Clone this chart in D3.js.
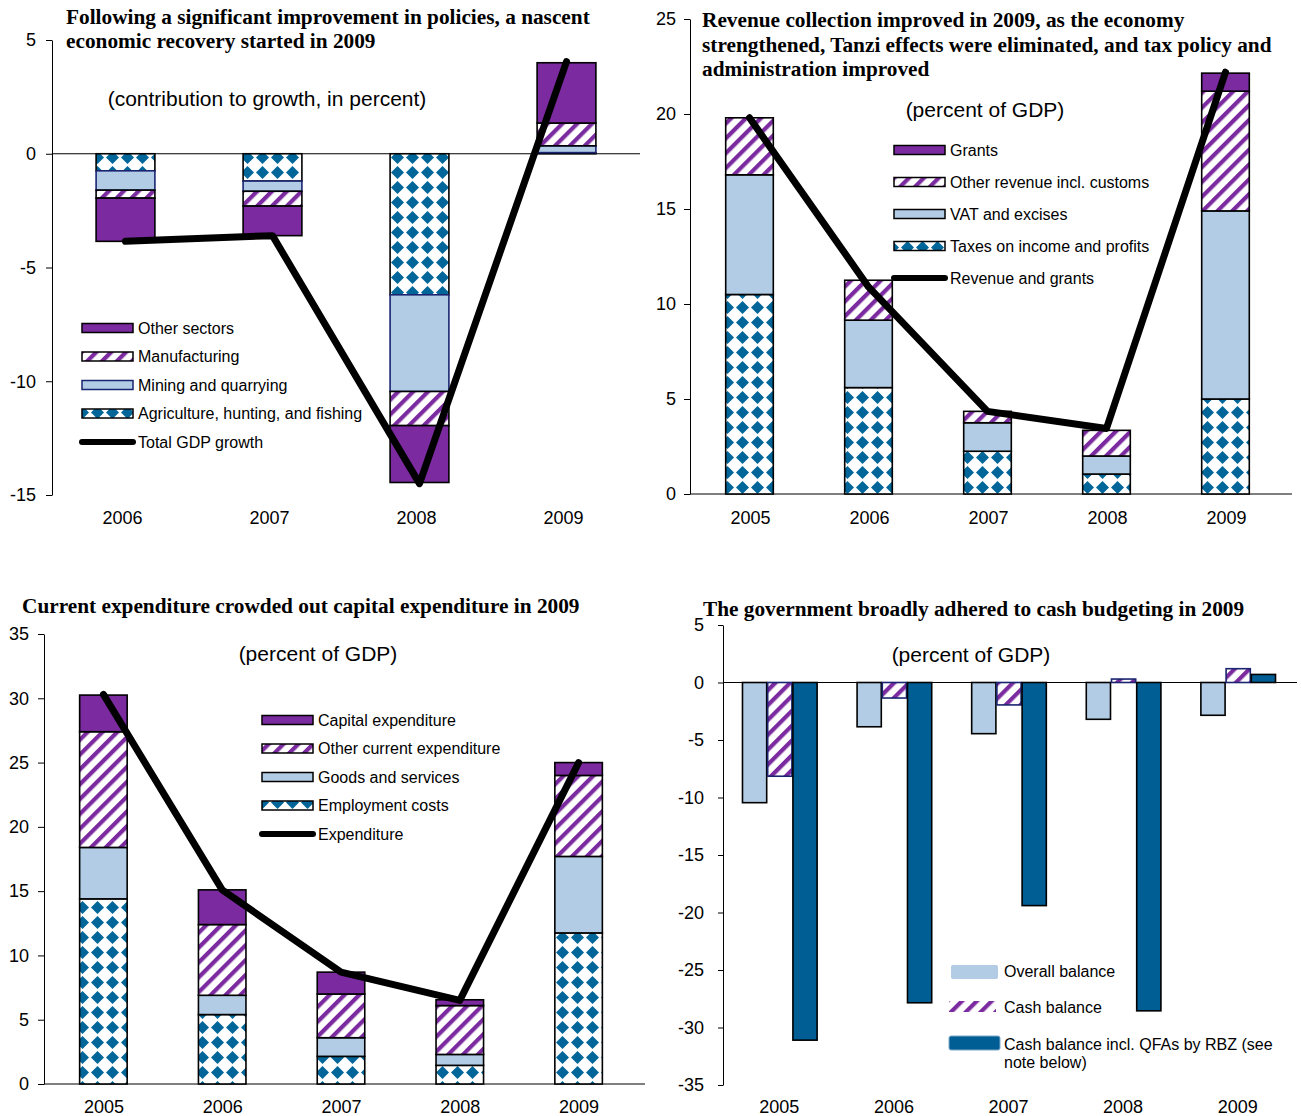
<!DOCTYPE html>
<html><head><meta charset="utf-8">
<script src="https://cdn.jsdelivr.net/npm/d3@7"></script>
<style>body{margin:0;background:#fff}svg{display:block}</style>
</head><body>
<svg id="fig" width="1301" height="1116"></svg>
<script>
// ---- Panel 1: contribution to growth (percent) ----
const years1 = ["2006", "2007", "2008", "2009"];
const agriculture = [-0.75, -1.2, -6.2, 0.05];
const mining = [-0.85, -0.45, -4.25, 0.3];
const manufacturing = [-0.35, -0.65, -1.5, 1.0];
const otherSectors = [-1.9, -1.3, -2.5, 2.65];
const totalGdpGrowth = [-3.85, -3.6, -14.5, 4.05];
const ticks1 = [5, 0, -5, -10, -15];

// ---- Panel 2: revenue (percent of GDP) ----
const years2 = ["2005", "2006", "2007", "2008", "2009"];
const taxesIncome = [10.5, 5.6, 2.25, 1.05, 5.0];
const vatExcises = [6.3, 3.55, 1.5, 0.95, 9.9];
const otherRevenue = [3.0, 2.1, 0.6, 1.35, 6.3];
const grants = [0, 0, 0, 0, 0.95];
const revenueGrants = [19.8, 10.9, 4.35, 3.45, 22.2];
const ticks2 = [0, 5, 10, 15, 20, 25];

// ---- Panel 3: expenditure (percent of GDP) ----
const years3 = ["2005", "2006", "2007", "2008", "2009"];
const employmentCosts = [14.4, 5.4, 2.15, 1.45, 11.75];
const goodsServices = [4.0, 1.5, 1.45, 0.85, 5.95];
const otherCurrent = [9.0, 5.5, 3.4, 3.8, 6.3];
const capitalExp = [2.85, 2.7, 1.7, 0.45, 1.0];
const expenditure = [30.3, 15.1, 8.7, 6.5, 25.0];
const ticks3 = [0, 5, 10, 15, 20, 25, 30, 35];

// ---- Panel 4: balances (percent of GDP) ----
const years4 = ["2005", "2006", "2007", "2008", "2009"];
const overallBalance = [-10.45, -3.85, -4.45, -3.2, -2.85];
const cashBalance = [-8.15, -1.35, -1.95, 0.3, 1.2];
const cashBalanceQfa = [-31.1, -27.85, -19.4, -28.55, 0.7];
const ticks4 = [5, 0, -5, -10, -15, -20, -25, -30, -35];

const COL = {purple: "#7B2A9F", light: "#B1CCE4", blue: "#00669A", dark: "#005E94", navy: "#1A2470"};
const SANS = "'Liberation Sans', Arial, sans-serif";
const SERIF = "'Liberation Serif', 'Times New Roman', serif";

const svg = d3.select("#fig");
svg.append("rect").attr("width", 1301).attr("height", 1116).attr("fill", "#fff");
const defs = svg.append("defs");

// blue diamonds on white
const dp = defs.append("pattern").attr("id", "diamonds")
  .attr("patternUnits", "userSpaceOnUse").attr("width", 15).attr("height", 15);
dp.append("rect").attr("width", 15).attr("height", 15).attr("fill", "#fff");
dp.append("path").attr("d", "M7.5,1L14,7.5L7.5,14L1,7.5Z").attr("fill", COL.blue);

// purple upward diagonal stripes on white
const sp = defs.append("pattern").attr("id", "stripes")
  .attr("patternUnits", "userSpaceOnUse").attr("width", 10.5).attr("height", 10)
  .attr("patternTransform", "rotate(45)");
sp.append("rect").attr("width", 10.5).attr("height", 10).attr("fill", "#fff");
sp.append("rect").attr("width", 4.2).attr("height", 10).attr("fill", COL.purple);

function drawTitle(lines, x, y, dy) {
  const t = svg.append("text").attr("x", x).attr("y", y)
    .attr("font-family", SERIF).attr("font-weight", "bold").attr("font-size", 21.3).attr("fill", "#000");
  lines.forEach((l, i) => t.append("tspan").attr("x", x).attr("y", y + i * dy).text(l));
}

function drawSubtitle(text, cx, y) {
  svg.append("text").attr("x", cx).attr("y", y).attr("text-anchor", "middle")
    .attr("font-family", SANS).attr("font-size", 21).text(text);
}

function drawYAxis(y, ticks, xPos, pad) {
  const g = svg.append("g").attr("transform", `translate(${xPos},0)`)
    .call(d3.axisLeft(y).tickValues(ticks).tickSize(6).tickSizeOuter(0).tickPadding(pad).tickFormat(d => String(d)));
  g.selectAll("text").attr("font-family", SANS).attr("font-size", 18).attr("fill", "#000");
  g.selectAll("line,path").attr("stroke", "#000").attr("stroke-width", 1);
}

function drawXLabels(x, years, yPos, dx) {
  svg.append("g").selectAll("text").data(years).join("text")
    .attr("x", d => x(d) + x.bandwidth() / 2 + (dx || 0)).attr("y", yPos)
    .attr("text-anchor", "middle").attr("font-family", SANS).attr("font-size", 18).text(d => d);
}

function drawLegend(items, lx, ly, dy) {
  const g = svg.append("g");
  items.forEach((it, i) => {
    const cy = ly + i * dy;
    if (it.type === "line") {
      g.append("line").attr("x1", lx).attr("x2", lx + 51).attr("y1", cy).attr("y2", cy)
        .attr("stroke", "#000").attr("stroke-width", 6).attr("stroke-linecap", "round");
    } else {
      g.append("rect").attr("x", lx).attr("y", cy - 4.5).attr("width", 51).attr("height", 9)
        .attr("fill", it.fill).attr("stroke", it.stroke || "#000").attr("stroke-width", 1.5);
    }
    g.append("text").attr("x", lx + 56).attr("y", cy + 5.5)
      .attr("font-family", SANS).attr("font-size", 16).text(it.name);
  });
}

function stackedPanel(o) {
  const x = d3.scaleBand().domain(o.years).range(o.xRange).paddingInner(0.6).paddingOuter(0.3);
  const y = d3.scaleLinear().domain(o.yDomain).range(o.yRange);
  const keys = o.series.map(s => s.name);
  const rows = o.years.map((yr, i) => {
    const r = {year: yr};
    o.series.forEach(s => r[s.name] = s.values[i]);
    return r;
  });
  const stacked = d3.stack().keys(keys).offset(d3.stackOffsetDiverging)(rows);

  svg.append("line").attr("x1", o.xRange[0]).attr("x2", o.zeroEnd).attr("y1", y(0)).attr("y2", y(0))
    .attr("stroke", "#000").attr("stroke-width", 1);

  stacked.forEach((layer, li) => {
    const s = o.series[li];
    svg.append("g").selectAll("rect").data(layer.filter(d => d[1] !== d[0])).join("rect")
      .attr("x", d => x(d.data.year))
      .attr("width", x.bandwidth())
      .attr("y", d => y(Math.max(d[0], d[1])))
      .attr("height", d => Math.abs(y(d[0]) - y(d[1])))
      .attr("fill", s.fill).attr("stroke", s.stroke || "#000").attr("stroke-width", 1.6);
  });

  const line = d3.line().x((d, i) => x(o.years[i]) + x.bandwidth() / 2).y(d => y(d));
  svg.append("path").datum(o.line.values).attr("d", line)
    .attr("fill", "none").attr("stroke", "#000").attr("stroke-width", 7)
    .attr("stroke-linejoin", "round").attr("stroke-linecap", "round");

  drawYAxis(y, o.ticks, o.xRange[0], o.tickPad);
  drawXLabels(x, o.years, o.labelY, o.labelDx);
  drawTitle(o.title, o.titleX, o.titleY, o.titleDy);
  drawSubtitle(o.subtitle, o.subX, o.subY);
  const legendItems = o.series.slice().reverse().map(s => ({name: s.name, fill: s.fill, stroke: s.stroke}));
  legendItems.push({name: o.line.name, type: "line"});
  drawLegend(legendItems, o.legX, o.legY, o.legDy);
}

// Panel 1
stackedPanel({
  years: years1, xRange: [52, 640], yDomain: [-15, 5], yRange: [495, 40], ticks: ticks1, tickPad: 10,
  zeroEnd: 640, labelY: 524, labelDx: -3,
  series: [
    {name: "Agriculture, hunting, and fishing", values: agriculture, fill: "url(#diamonds)"},
    {name: "Mining and quarrying", values: mining, fill: COL.light, stroke: COL.navy},
    {name: "Manufacturing", values: manufacturing, fill: "url(#stripes)"},
    {name: "Other sectors", values: otherSectors, fill: COL.purple}
  ],
  line: {name: "Total GDP growth", values: totalGdpGrowth},
  title: ["Following a significant improvement in policies, a nascent", "economic recovery started in 2009"],
  titleX: 66, titleY: 24, titleDy: 24,
  subtitle: "(contribution to growth, in percent)", subX: 267, subY: 106,
  legX: 82, legY: 328, legDy: 28.5
});

// Panel 2
stackedPanel({
  years: years2, xRange: [690, 1285], yDomain: [0, 25], yRange: [494, 19], ticks: ticks2, tickPad: 8,
  zeroEnd: 1292, labelY: 524, labelDx: 1,
  series: [
    {name: "Taxes on income and profits", values: taxesIncome, fill: "url(#diamonds)"},
    {name: "VAT and excises", values: vatExcises, fill: COL.light},
    {name: "Other revenue incl. customs", values: otherRevenue, fill: "url(#stripes)"},
    {name: "Grants", values: grants, fill: COL.purple}
  ],
  line: {name: "Revenue and grants", values: revenueGrants},
  title: ["Revenue collection improved in 2009, as the economy",
          "strengthened, Tanzi effects were eliminated, and tax policy and",
          "administration improved"],
  titleX: 702, titleY: 27, titleDy: 24.5,
  subtitle: "(percent of GDP)", subX: 985, subY: 117,
  legX: 894, legY: 150, legDy: 32
});

// Panel 3
stackedPanel({
  years: years3, xRange: [44, 638], yDomain: [0, 35], yRange: [1084, 634], ticks: ticks3, tickPad: 9,
  zeroEnd: 645, labelY: 1113, labelDx: 0.5,
  series: [
    {name: "Employment costs", values: employmentCosts, fill: "url(#diamonds)"},
    {name: "Goods and services", values: goodsServices, fill: COL.light},
    {name: "Other current expenditure", values: otherCurrent, fill: "url(#stripes)"},
    {name: "Capital expenditure", values: capitalExp, fill: COL.purple}
  ],
  line: {name: "Expenditure", values: expenditure},
  title: ["Current expenditure crowded out capital expenditure in 2009"],
  titleX: 22, titleY: 613, titleDy: 24,
  subtitle: "(percent of GDP)", subX: 318, subY: 661,
  legX: 262, legY: 720, legDy: 28.5
});

// Panel 4: grouped balances
(function () {
  const x = d3.scaleBand().domain(years4).range([723, 1296]).paddingInner(0.34).paddingOuter(0.17);
  const names = ["Overall balance", "Cash balance", "Cash balance incl. QFAs by RBZ"];
  const vals = [overallBalance, cashBalance, cashBalanceQfa];
  const fills = [COL.light, "url(#stripes)", COL.dark];
  const strokes = ["#000", COL.navy, "#000"];
  const xi = d3.scaleBand().domain(names).range([0, x.bandwidth()]);
  const y = d3.scaleLinear().domain([-35, 5]).range([1085, 625]);

  svg.append("line").attr("x1", 723).attr("x2", 1297).attr("y1", y(0)).attr("y2", y(0))
    .attr("stroke", "#000").attr("stroke-width", 1);

  names.forEach((n, k) => {
    svg.append("g").selectAll("rect").data(years4).join("rect")
      .attr("x", d => x(d) + xi(n))
      .attr("width", xi.bandwidth() - 1)
      .attr("y", (d, i) => y(Math.max(0, vals[k][i])))
      .attr("height", (d, i) => Math.abs(y(vals[k][i]) - y(0)))
      .attr("fill", fills[k]).attr("stroke", strokes[k]).attr("stroke-width", 1.6);
  });

  const g = svg.append("g").attr("transform", "translate(723,0)")
    .call(d3.axisLeft(y).tickValues(ticks4).tickSize(5).tickSizeOuter(0).tickPadding(14).tickFormat(d => String(d)));
  g.selectAll("text").attr("font-family", SANS).attr("font-size", 18).attr("fill", "#000");
  g.selectAll("line,path").attr("stroke", "#000");

  drawXLabels(x, years4, 1113, -1);
  drawTitle(["The government broadly adhered to cash budgeting in 2009"], 703, 616, 24);
  drawSubtitle("(percent of GDP)", 971, 662);

  // legend
  const lg = svg.append("g");
  lg.append("rect").attr("x", 951).attr("y", 965).attr("width", 47).attr("height", 14).attr("rx", 2)
    .attr("fill", COL.light);
  lg.append("rect").attr("x", 949).attr("y", 1001).attr("width", 47).attr("height", 11)
    .attr("fill", "url(#stripes)");
  lg.append("rect").attr("x", 949).attr("y", 1036).attr("width", 51).attr("height", 14).attr("rx", 2)
    .attr("fill", COL.dark).attr("stroke", "#7FA8C9").attr("stroke-width", 1);
  const lt = (t, yy) => lg.append("text").attr("x", 1004).attr("y", yy)
    .attr("font-family", SANS).attr("font-size", 16).text(t);
  lt("Overall balance", 977);
  lt("Cash balance", 1013);
  lt("Cash balance incl. QFAs by RBZ (see", 1050);
  lt("note below)", 1068);
})();
</script>
</body></html>
